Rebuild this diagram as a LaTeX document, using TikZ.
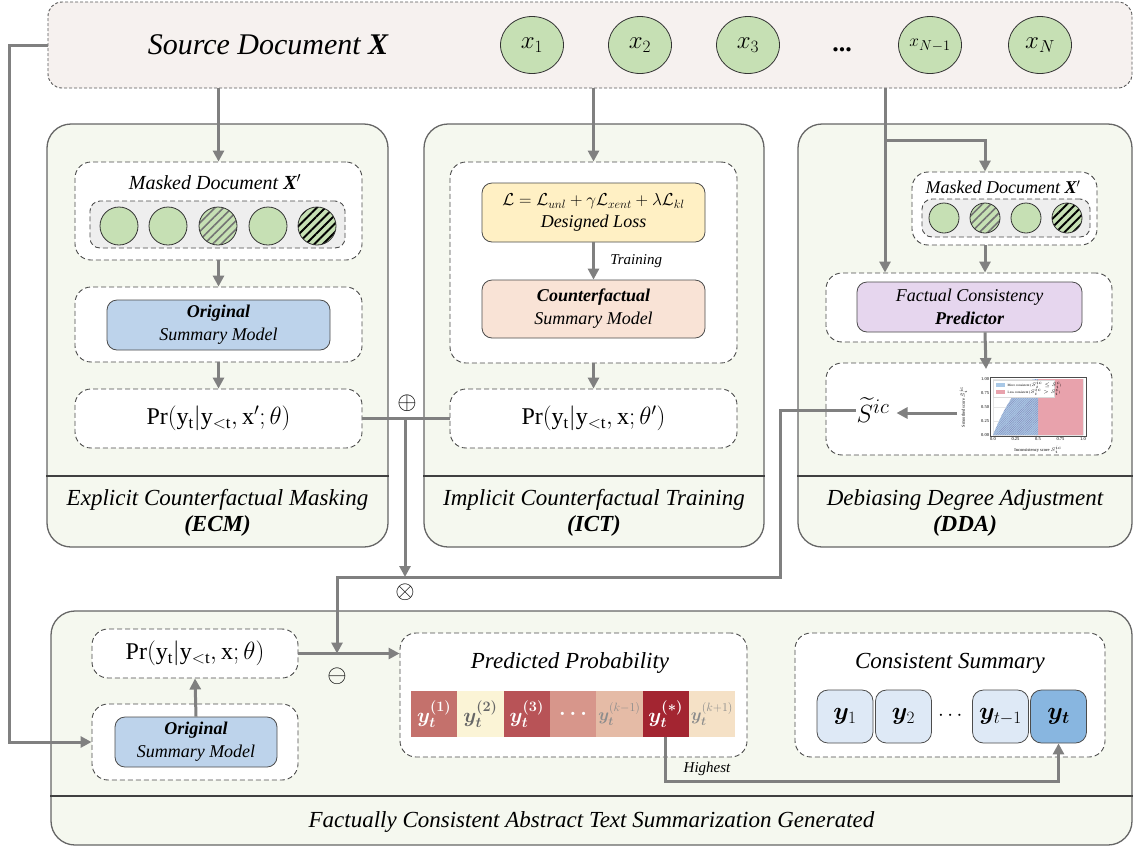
\documentclass[tikz,border=0pt]{standalone}
\usepackage{fontspec}
\setmainfont{Liberation Serif}
\usepackage{amsmath,bm}
\usetikzlibrary{arrows.meta,shapes.geometric,patterns.meta}

\definecolor{srcfill}{HTML}{F6F1EF}
\definecolor{panelfill}{HTML}{F5F8EF}
\definecolor{tokgreen}{HTML}{C6E0B4}
\definecolor{maskgray}{HTML}{EEEEEE}
\definecolor{origblue}{HTML}{BDD3EB}
\definecolor{lossyellow}{HTML}{FFF0C4}
\definecolor{cfpeach}{HTML}{F9E3D6}
\definecolor{predpurple}{HTML}{E6D6EE}
\definecolor{conngray}{HTML}{808080}
\definecolor{sumblue}{HTML}{DEE9F6}
\definecolor{sumdark}{HTML}{88B6E0}
\definecolor{chartblue}{HTML}{A9C8E6}
\definecolor{chartred}{HTML}{E8A2AC}
\definecolor{probA}{HTML}{C4716C}
\definecolor{probB}{HTML}{FBF4D6}
\definecolor{probC}{HTML}{B85357}
\definecolor{probD}{HTML}{D7968B}
\definecolor{probE}{HTML}{E5BBA6}
\definecolor{probF}{HTML}{A32531}
\definecolor{probG}{HTML}{F5E1C6}

\newcommand{\probtxt}[2]{$\mathrm{Pr}(\mathrm{y_t}|\mathrm{y_{<t}},#1;#2)$}

\tikzset{
  wh/.style 2 args={minimum width=#1pt, minimum height=#2pt, inner sep=0pt},
  panel/.style={draw=black!60, line width=1.3pt, fill=panelfill, rounded corners=24pt},
  sep/.style={draw=black!75, line width=1.8pt},
  srcbox/.style={draw=black!65, dash pattern=on 3pt off 2pt, line width=0.9pt, fill=srcfill, rounded corners=14pt},
  dbox/.style={draw=black!70, dash pattern=on 5pt off 3pt, line width=0.9pt, fill=white, rounded corners=16pt},
  graybox/.style={draw=black!70, dash pattern=on 5pt off 3pt, line width=0.9pt, fill=maskgray, rounded corners=10pt},
  model/.style={draw=black!70, line width=0.8pt, rounded corners=10pt, align=center, font=\fontsize{18}{23}\selectfont\itshape},
  tok/.style={circle, draw=black!80, line width=0.8pt, fill=tokgreen, inner sep=0pt},
  maskA/.style={tok, preaction={fill=tokgreen}, pattern={Lines[angle=45,distance=6pt,line width=1.6pt]}, pattern color=black!55},
  maskB/.style={tok, preaction={fill=tokgreen}, pattern={Lines[angle=45,distance=6pt,line width=2pt]}, pattern color=black},
  conn/.style={draw=conngray, line width=3pt, -{Triangle[length=11pt,width=11pt]}},
  line/.style={draw=conngray, line width=3pt},
  ttl/.style={font=\fontsize{23}{27}\selectfont\itshape},
  lbl/.style={font=\fontsize{20}{24}\selectfont\itshape},
  prtxt/.style={font=\fontsize{24}{28}\selectfont},
  opsym/.style={font=\fontsize{24}{24}\selectfont},
  cell/.style={minimum width=46.3pt, minimum height=46pt, inner sep=0pt, font=\fontsize{20}{20}\selectfont},
  sumtok/.style={draw=black!70, line width=0.8pt, fill=sumblue, rounded corners=11pt, minimum width=56pt, minimum height=53pt, font=\fontsize{25}{25}\selectfont}
}

\begin{document}
\begin{tikzpicture}[x=1pt, y=-1pt]
\useasboundingbox (0,0) rectangle (1134,847);

% source document
\node[srcbox, wh={1084}{86}] (src) at (590,45) {};
\node[font=\fontsize{30}{34}\selectfont\itshape] (srcttl) at (268,45) {Source Document \textbf{X}};
\foreach \px/\lab/\fs [count=\i] in {532/x_1/25, 640/x_2/25, 748/x_3/25, 930/x_{N-1}/19, 1040/x_N/25}
  \node[tok, ellipse, minimum width=63pt, minimum height=57pt, font=\fontsize{\fs}{\fs}\selectfont] (x\i) at (\px,45) {$\lab$};
\node[font=\fontsize{26}{30}\selectfont\bfseries] (xdots) at (842,50) {...};

% panels
\node[panel, wh={341}{423}] (ecm) at (217.5,335.5) {};
\node[panel, wh={340}{423}] (ict) at (594,335.5) {};
\node[panel, wh={334}{423}] (dda) at (965,335.5) {};
\node[panel, wh={1081}{234}] (gen) at (591.5,728) {};
\foreach \p in {ecm,ict,dda}
  \draw[sep] (\p.west |- 0,476) -- (\p.east |- 0,476);
\draw[sep] (gen.west |- 0,796) -- (gen.east |- 0,796);
\node[ttl] (ecmttl) at (217.5,500) {Explicit Counterfactual Masking};
\node[ttl] (ecmabbr) at (217.5,526) {\textbf{(ECM)}};
\node[ttl] (ictttl) at (594,500) {Implicit Counterfactual Training};
\node[ttl] (ictabbr) at (594,526) {\textbf{(ICT)}};
\node[ttl] (ddattl) at (965,500) {Debiasing Degree Adjustment};
\node[ttl] (ddaabbr) at (965,526) {\textbf{(DDA)}};
\node[ttl] (genttl) at (591.5,822) {Factually Consistent Abstract Text Summarization Generated};

% ECM
\node[dbox, wh={287}{98}] (ecmmask) at (218.5,211) {};
\node[lbl] (ecmmasktxt) at (215,182) {Masked Document \textbf{X}$^{\prime}$};
\node[graybox, wh={255}{47}] (ecmrow) at (217.5,224.5) {};
\foreach \px/\st [count=\i] in {119/tok, 168/tok, 218/maskA, 268/tok, 317/maskB}
  \node[\st, minimum size=38pt] (em\i) at (\px,226) {};
\node[dbox, wh={287}{75}] (ecmmodel) at (218.5,324.5) {};
\node[model, fill=origblue, wh={223}{50}] (ecmorig) at (218.5,325) {\textbf{Original}\\Summary Model};
\node[dbox, wh={287}{59}, prtxt] (ecmpr) at (218.5,418.5) {\probtxt{\mathrm{x}'}{\theta}};
\draw[conn] (src.south -| ecmmask.north) -- (ecmmask.north);
\draw[conn] (ecmmask.south) -- (ecmmodel.north);
\draw[conn] (ecmmodel.south) -- (ecmpr.north);

% ICT
\node[dbox, wh={287}{201}] (ictbox) at (593.5,262.5) {};
\node[model, fill=lossyellow, wh={223}{59}, font=\fontsize{18}{22}\selectfont\itshape] (loss) at (593.5,212.5)
  {$\mathcal{L}=\mathcal{L}_{unl}+\gamma\mathcal{L}_{xent}+\lambda\mathcal{L}_{kl}$\\Designed Loss};
\node[model, fill=cfpeach, wh={223}{58}] (cf) at (593.5,309) {\textbf{Counterfactual}\\Summary Model};
\draw[conn] (loss.south) -- node[right, xshift=12pt, font=\fontsize{15}{15}\selectfont\itshape] (traintxt) {Training} (cf.north);
\node[dbox, wh={287}{59}, prtxt] (ictpr) at (593.5,418.5) {\probtxt{\mathrm{x}}{\theta'}};
\draw[conn] (src.south -| ictbox.north) -- (ictbox.north);
\draw[conn] (ictbox.south) -- (ictpr.north);

% DDA
\node[dbox, wh={185}{73}] (ddamask) at (1004.5,208.5) {};
\node[lbl, font=\fontsize{18}{22}\selectfont\itshape] (ddamasktxt) at (1003,187) {Masked Document \textbf{X}$^{\prime}$};
\node[graybox, wh={168}{38}] (ddarow) at (1006,218) {};
\foreach \px/\st [count=\i] in {944/tok, 985/maskA, 1026/tok, 1067/maskB}
  \node[\st, minimum size=30pt] (dm\i) at (\px,218) {};
\node[dbox, wh={286}{69}] (preddash) at (969,307.5) {};
\node[model, fill=predpurple, wh={225}{50}] (predictor) at (969.5,307) {Factual Consistency\\\textbf{Predictor}};
\node[dbox, wh={286}{92}] (chartbox) at (969,409) {};
\node[font=\fontsize{30}{32}\selectfont, inner sep=1pt] (stilde) at (873,410) {$\widetilde{S}^{ic}$};
\coordinate (ddasplit) at (885,140);
\coordinate (chartin) at (986,369);
\coordinate (chartout) at (957,413);
\draw[conn] (src.south -| ddasplit) -- (preddash.north -| ddasplit);
\draw[conn] (ddasplit) -| (ddamask.north -| dm2);
\draw[conn] (ddamask.south -| dm2) -- (preddash.north -| dm2);
\draw[conn] (predictor.south -| dm2) -- (chartin);
\draw[conn, shorten >=6pt] (chartout) -- (stilde.east |- chartout);

% small chart
\begin{scope}[shift={(993,435)}, x=90pt, y=56pt, font=\fontsize{4.5}{5}\selectfont]
  \draw[black!10, line width=0.3pt] (0,0) grid[xstep=0.25, ystep=0.25] (1,1);
  \fill[chartred] (0.5,0) rectangle (1,1);
  \fill[chartblue] (0,0) -- plot[domain=0:0.5, samples=25] (\x,{1-(1-2*\x)^2}) -- (0.5,0) -- cycle;
  \fill[pattern={Lines[angle=45,distance=1.6pt,line width=0.3pt]}, pattern color=blue!40!black!50]
    (0,0) -- plot[domain=0:0.5, samples=25] (\x,{1-(1-2*\x)^2}) -- (0.5,0) -- cycle;
  \draw[black!70, line width=0.4pt] (-0.03,-0.02) rectangle (1.03,1.03);
  \foreach \v in {0.0,0.25,0.5,0.75,1.0}
    \node[below, inner sep=1pt] at (\v,-0.02) {\v};
  \foreach \v in {0.00,0.25,0.50,0.75,1.00}
    \node[left, inner sep=1pt] at (-0.03,\v) {\v};
  \node[below] at (0.5,-0.14) {Inconsistency score $S_i^{ic}$};
  \node[rotate=90] at (-0.33,0.5) {Smoothed score $\tilde{S}_i^{ic}$};
  \draw[black!15, fill=white, line width=0.3pt] (0.0,0.98) rectangle (0.68,0.68);
  \fill[chartblue] (0.03,0.93) rectangle (0.13,0.86);
  \fill[chartred] (0.03,0.8) rectangle (0.13,0.73);
  \node[right, inner sep=1pt, font=\fontsize{3.4}{4}\selectfont] at (0.15,0.895) {More consistent ($S_i^{ic}\leq S_i^{c}$)};
  \node[right, inner sep=1pt, font=\fontsize{3.4}{4}\selectfont] at (0.15,0.765) {Less consistent ($S_i^{ic}> S_i^{c}$)};
\end{scope}

% combining
\coordinate (plusjn) at (405,418.5);
\coordinate (timesjn) at (405,577);
\draw[line] (ecmpr.east) -- (ictpr.west);
\draw[conn] (plusjn) -- (timesjn);
\node[opsym] (plus) at (407,403) {$\oplus$};
\node[opsym] (times) at (405,592) {$\otimes$};

% generation
\node[dbox, wh={206}{49}, prtxt] (bprob) at (195,653.5) {\probtxt{\mathrm{x}}{\theta}};
\node[dbox, wh={206}{76}] (bmodel) at (195,742) {};
\node[model, fill=origblue, wh={162}{50}] (borig) at (196,742) {\textbf{Original}\\Summary Model};
\node[dbox, wh={347}{124}] (predprob) at (573.5,695) {};
\node[ttl] (predttl) at (570,663) {Predicted Probability};
\foreach \cc/\lab/\tc/\fs [count=\i] in {probA/\bm{y_t^{(1)}}/white/20, probB/\bm{y_t^{(2)}}/black!60/20, probC/\bm{y_t^{(3)}}/white/20,
    probD/\bm{\ldots}/white/20, probE/\bm{y}_{\bm{t}}^{(k-1)}/black!45/17, probF/\bm{y_t^{(*)}}/white/20, probG/\bm{y}_{\bm{t}}^{(k+1)}/black!45/17}
  \node[cell, fill=\cc, text=\tc, font=\fontsize{\fs}{\fs}\selectfont] (c\i) at ({411+46.3*(\i-0.5)},714) {$\lab$};
\node[dbox, wh={310}{124}] (cons) at (950,695) {};
\node[ttl] (consttl) at (950,663) {Consistent Summary};
\node[sumtok] (s1) at (845,716.5) {$\bm{y}_1$};
\node[sumtok] (s2) at (903.5,716.5) {$\bm{y}_2$};
\node[font=\fontsize{22}{22}\selectfont] (sdots) at (952,716) {$\cdots$};
\node[sumtok] (s3) at (1000.5,716.5) {$\bm{y}_{t-1}$};
\node[sumtok, fill=sumdark] (s4) at (1058.5,716.5) {$\bm{y_t}$};
\node[font=\fontsize{15}{15}\selectfont\itshape] (hightxt) at (707,769) {Highest};
\coordinate (minusjn) at (bprob.east -| 337,0);
\draw[conn] (borig.north) -- (bprob.south);
\draw[conn] (src.west) -- ++(-38,0) |- (bmodel.west);
\draw[conn] (bprob.east) -- (bprob.east -| predprob.west);
\draw[conn] (stilde.west) -| (780,577) -| (minusjn);
\node[opsym] (minus) at (337,676) {$\ominus$};
\draw[conn] (c6.south) -- ++(0,44) -| (s4.south);
\end{tikzpicture}
\end{document}
